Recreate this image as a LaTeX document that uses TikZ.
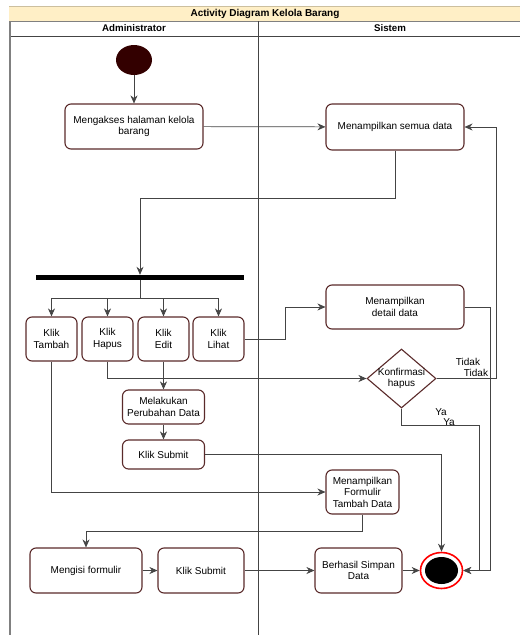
\documentclass[tikz,border=0pt]{standalone}
\usepackage{fontspec}
\setmainfont{Liberation Sans}
\usetikzlibrary{shapes.geometric,arrows.meta}

\definecolor{boxline}{HTML}{5A2A2A}
\definecolor{startfill}{HTML}{330000}
\definecolor{titlefill}{HTML}{FFEFC6}
\definecolor{laneline}{HTML}{444444}

\begin{document}
\begin{tikzpicture}[x=1pt,y=-1pt,
    font=\fontsize{10}{11.5}\selectfont,
    act/.style={draw=boxline,line width=1.1pt,rounded corners=6pt,fill=white,
      align=center,inner sep=1pt},
    decision/.style={diamond,draw=boxline,line width=1.1pt,fill=white,
      minimum width=69pt,minimum height=59pt,inner sep=0pt},
    arr/.style={draw=laneline,line width=0.7pt,-{Stealth[length=8pt,width=7pt]}},
    link/.style={draw=laneline,line width=0.7pt}]

      \useasboundingbox (0,0) rectangle (520,635);

      % The swimlanes.
      \fill [titlefill] (9,6) rectangle (520,21);
      \draw [titlefill!80!black] (9,6) -- (520,6);
      \draw [gray,line width=1pt] (9,21) -- (520,21);
      \draw [laneline,line width=0.8pt] (9,36) -- (520,36);
      \draw [gray,line width=2pt] (10,21) -- (10,635);
      \draw [laneline,line width=0.8pt] (258,21) -- (258,635);
      \node [font=\fontsize{10}{11}\selectfont\bfseries] (judul) at (265,14) {Activity Diagram Kelola Barang};
      \node [font=\fontsize{9.7}{11}\selectfont\bfseries] (admin) at (134,28.5) {Administrator};
      \node [font=\fontsize{9.7}{11}\selectfont\bfseries] (sistem) at (390,28.5) {Sistem};

      % The start and end states.
      \node [ellipse,fill=startfill,minimum width=36pt,minimum height=30pt] (start) at (134,60) {};
      \node [ellipse,draw=red,line width=1.6pt,fill=white,minimum width=42pt,minimum height=36pt] (end) at (441.5,570.5) {};
      \node [ellipse,fill=black,minimum width=33pt,minimum height=27pt] (endin) at (end) {};

      % The activities.
      \node [act,minimum width=138pt,minimum height=45pt] (akses) at (134,126.5) {Mengakses halaman kelola\\barang};
      \node [act,minimum width=138pt,minimum height=46pt] (semua) at (395,127) {Menampilkan semua data};
      \node [fill=black,minimum width=208pt,minimum height=5pt,inner sep=0pt] (fork) at (140,277.5) {};
      \node [act,minimum width=51pt,minimum height=44pt] (tambah) at (51.5,339) {Klik\\Tambah};
      \node [act,minimum width=51pt,minimum height=44pt] (hapus) at (107.5,339) {Klik\\Hapus};
      \node [act,minimum width=51pt,minimum height=44pt] (edit) at (163.5,339) {Klik\\Edit};
      \node [act,minimum width=51pt,minimum height=44pt] (lihat) at (218.5,339) {Klik\\Lihat};
      \node [act,minimum width=82pt,minimum height=34pt] (ubah) at (163.5,407) {Melakukan\\Perubahan Data};
      \node [act,minimum width=82pt,minimum height=29pt] (submit) at (163.5,454.5) {Klik Submit};
      \node [act,minimum width=138pt,minimum height=44pt] (detail) at (395,307) {Menampilkan\\detail data};
      \node [decision] (konfirm) at (401.5,378.5) {};
      \node [align=center] (konfirmtxt) at (konfirm) {Konfirmasi\\hapus};
      \node [act,minimum width=73pt,minimum height=44pt] (formulir) at (362.5,492) {Menampilkan\\Formulir\\Tambah Data};
      \node [act,minimum width=112pt,minimum height=45pt] (mengisi) at (86,570.5) {Mengisi formulir};
      \node [act,minimum width=86pt,minimum height=45pt] (submitdua) at (201,570.5) {Klik Submit};
      \node [act,minimum width=87pt,minimum height=45pt] (berhasil) at (358.5,570.5) {Berhasil Simpan\\Data};

      % The flows.
      \coordinate (turun) at (140,198);
      \coordinate (bagi) at (140,298);
      \coordinate (ya) at (479,425);
      \coordinate (tidak) at (496,378.5);
      \coordinate (dt) at (490,307);
      \draw [arr] (start) -- (akses);
      \draw [arr] (akses) -- (semua);
      \draw [arr] (semua.south) |- (turun) -- (fork.north);
      \draw [link] (fork.south) -- (bagi);
      \draw [arr] (bagi) -| (tambah.north);
      \draw [arr] (bagi) -| (hapus.north);
      \draw [arr] (bagi) -| (edit.north);
      \draw [arr] (bagi) -| (lihat.north);
      \draw [arr] (lihat.east) -- ++(41,0) |- (detail.west);
      \draw [arr] (hapus.south) |- (konfirm.west);
      \draw [arr] (edit) -- (ubah);
      \draw [arr] (ubah) -- (submit);
      \draw [arr] (submit.east) -| (end.north);
      \draw [arr] (tambah.south) |- (formulir.west);
      \draw [arr] (formulir.south) -- ++(0,17) -| (mengisi.north);
      \draw [arr] (mengisi) -- (submitdua);
      \draw [arr] (submitdua) -- (berhasil);
      \draw [arr] (berhasil) -- (end);
      \draw [arr] (konfirm.east) -- (tidak) |- (semua.east);
      \draw [arr] (konfirm.south) |- (ya) |- (end.east);
      \draw [arr] (detail.east) -- (dt) |- (end.east);

      % The guard labels.
      \node [inner sep=0pt] (tidaka) at (468,362) {Tidak};
      \node [inner sep=0pt] (tidakb) at (476,373) {Tidak};
      \node [inner sep=0pt] (yaa) at (441,412) {Ya};
      \node [inner sep=0pt] (yab) at (449,422) {Ya};

    \end{tikzpicture}
\end{document}
